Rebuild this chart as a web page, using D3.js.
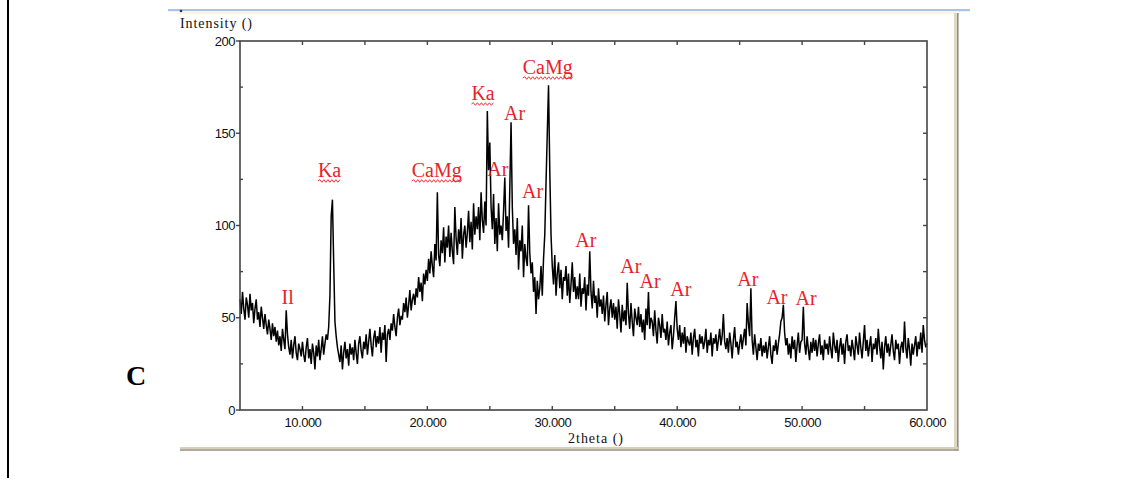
<!DOCTYPE html>
<html>
<head>
<meta charset="utf-8">
<script src="https://cdn.jsdelivr.net/npm/d3@7"></script>
<style>
  html, body { margin: 0; padding: 0; background: #ffffff; }
  svg { display: block; }
</style>
</head>
<body>
<svg id="chart" width="1121" height="493"></svg>
<script>
// ---------------- DATA ----------------
// XRD pattern: 2theta from 5.0 to 60.0 in 0.1 steps
const twoThetaStart = 5.0;
const twoThetaStep = 0.1;
const intensity = [
  60, 52, 64, 55, 49, 61, 57, 50, 63, 54,
  58, 47, 55, 60, 49, 53, 45, 56, 50, 44,
  52, 46, 41, 49, 44, 38, 47, 40, 45, 37,
  43, 35, 40, 32, 44, 38, 33, 54, 41, 34,
  30, 38, 28, 35, 40, 31, 27, 36, 33, 29,
  37, 30, 26, 34, 39, 28, 33, 25, 36, 31,
  22, 35, 29, 38, 27, 33, 40, 30, 36, 41,
  38, 45, 62, 105, 114, 80, 48, 40, 34, 30,
  26, 35, 22, 31, 37, 28, 33, 24, 36, 30,
  34, 27, 38, 31, 25, 36, 40, 32, 28, 37,
  33, 41, 30, 37, 44, 35, 29, 39, 43, 34,
  40, 36, 45, 31, 42, 38, 46, 26, 41, 44,
  38, 47, 43, 52, 45, 40, 50, 55, 46, 51,
  49, 58, 53, 61, 50, 57, 65, 54, 60, 63,
  57, 66, 61, 72, 64, 69, 59, 74, 68, 76,
  70, 82, 74, 86, 78, 72, 90, 81, 118, 84,
  78, 92, 85, 99, 80, 94, 88, 100, 83, 96,
  86, 79, 110, 93, 84, 98, 90, 104, 82, 95,
  100, 88, 96, 108, 91, 102, 87, 112, 95, 105,
  98, 110, 92, 118, 103, 96, 113, 100, 162, 130,
  145, 110, 98, 117, 90, 104, 86, 112, 95, 100,
  92, 108, 126, 97, 105, 88, 120, 156, 110, 90,
  98, 84, 104, 76, 92, 86, 100, 72, 90, 82,
  78, 111, 85, 74, 80, 64, 72, 52, 70, 60,
  66, 78, 62, 82, 95, 123, 150, 176, 130, 95,
  78, 68, 84, 62, 74, 80, 66, 76, 60, 72,
  70, 78, 62, 74, 58, 68, 80, 64, 72, 60,
  67, 60, 74, 56, 66, 63, 72, 54, 68, 62,
  86, 64, 55, 70, 58, 62, 50, 66, 56, 60,
  52, 62, 48, 57, 64, 46, 55, 60, 50, 58,
  49, 56, 44, 60, 52, 42, 57, 48, 54, 46,
  69, 52, 44, 58, 48, 40, 55, 50, 46, 56,
  45, 52, 42, 49, 38, 55, 46, 64, 44, 50,
  48, 40, 54, 43, 36, 50, 46, 39, 52, 42,
  44, 38, 48, 35, 42, 46, 33, 40, 50, 59,
  44, 38, 46, 34, 42, 36, 45, 31, 40, 37,
  35, 42, 30, 39, 44, 34, 38, 29, 41, 36,
  40, 33, 37, 44, 31, 38, 35, 42, 29, 39,
  36, 41, 32, 38, 44, 35, 40, 52, 37, 33,
  39, 31, 42, 36, 28, 38, 45, 34, 37, 30,
  36, 41, 33, 39, 44, 35, 58, 47, 40, 66,
  38, 30, 41, 34, 27, 36, 32, 39, 29, 35,
  31, 37, 28, 34, 40, 30, 25, 35, 32, 38,
  30, 36, 41, 48, 50, 57, 42, 35, 39, 30,
  36, 28, 40, 33, 38, 26, 35, 42, 31, 37,
  38, 56, 36, 30, 40, 33, 27, 37, 31, 39,
  32, 38, 29, 36, 41, 30, 35, 27, 38, 33,
  36, 30, 40, 33, 28, 42, 35, 31, 38, 26,
  34, 39, 30, 36, 25, 37, 41, 32, 35, 29,
  38, 33, 27, 40, 35, 30, 42, 34, 28, 37,
  46, 32, 38, 29, 35, 40, 26, 36, 33, 39,
  30, 44, 35, 28, 37, 22, 34, 40, 31, 36,
  29, 35, 41, 32, 27, 38, 33, 36, 25, 34,
  37, 31, 48, 34, 28, 39, 33, 24, 36, 30,
  35, 40, 29, 37, 33, 42, 31, 46, 38, 34,
  36
];

const xTickLabels = [10, 20, 30, 40, 50, 60];
const xMinorTicks = [10, 15, 20, 25, 30, 35, 40, 45, 50, 55];
const yTickLabels = [0, 50, 100, 150, 200];
const yMinorTicks = [25, 75, 125, 175];
const yAllTicks = [25, 50, 75, 100, 125, 150, 175];

// peak annotations: text, 2theta of label centre, intensity at label baseline, squiggle underline
const peakNames  = ["Il", "Ka", "CaMg", "Ka", "Ar", "Ar", "Ar", "CaMg", "Ar", "Ar", "Ar", "Ar", "Ar", "Ar", "Ar"];
const peakTheta  = [8.82, 12.17, 20.75, 24.46, 26.98, 25.64, 28.42, 29.64, 32.69, 36.29, 37.83, 40.29, 45.66, 47.99, 50.32];
const peakLevel  = [57.5, 126.3, 126.3, 168.0, 157.2, 126.8, 114.9, 182.1, 88.3, 74.3, 66.1, 61.8, 67.2, 57.5, 56.9];
const peakWavy   = [false, true, true, true, false, false, false, true, false, false, false, false, false, false, false];

// ---------------- DRAW ----------------
const svg = d3.select("#chart");
const plot = { left: 240, right: 927, top: 41, bottom: 410 };

const x = d3.scaleLinear().domain([5, 60]).range([plot.left, plot.right]);
const y = d3.scaleLinear().domain([0, 200]).range([plot.bottom, plot.top]);

// page decorations
svg.append("line").attr("x1", 8).attr("x2", 8).attr("y1", 0).attr("y2", 478)
  .attr("stroke", "#000").attr("stroke-width", 2);

svg.append("text").attr("x", 136).attr("y", 385)
  .attr("text-anchor", "middle")
  .attr("font-family", "'Liberation Serif', 'Times New Roman', serif")
  .attr("font-weight", "bold").attr("font-size", 28).attr("fill", "#000")
  .text("C");

// window frame
svg.append("rect").attr("x", 168).attr("y", 9).attr("width", 802).attr("height", 2.2).attr("fill", "#a9c3e6");
svg.append("rect").attr("x", 178).attr("y", 11).attr("width", 778).attr("height", 3).attr("fill", "#f7f4ea");
svg.append("circle").attr("cx", 181).attr("cy", 11).attr("r", 1.3).attr("fill", "#334");
svg.append("rect").attr("x", 954).attr("y", 13).attr("width", 3).attr("height", 438).attr("fill", "#ddd7c4");
svg.append("rect").attr("x", 957).attr("y", 13).attr("width", 1.6).attr("height", 438).attr("fill", "#8f8d84");
svg.append("rect").attr("x", 180).attr("y", 447).attr("width", 778).attr("height", 2.2).attr("fill", "#d6cfba");
svg.append("rect").attr("x", 180).attr("y", 449.2).attr("width", 778).attr("height", 1.6).attr("fill", "#9c978a");

// axes (labels via d3 axis)
const tickFont = "'Liberation Sans', Arial, sans-serif";
const axisColor = "#444";

const xAxis = d3.axisBottom(x).tickValues(xTickLabels).tickSize(0).tickPadding(8)
  .tickFormat(d3.format(".3f"));
const gx = svg.append("g").attr("transform", `translate(0,${plot.bottom})`).call(xAxis);
gx.select(".domain").remove();
gx.selectAll("text").attr("font-family", tickFont).attr("font-size", 13).attr("fill", "#111")
  .attr("letter-spacing", "-0.5");

const yAxis = d3.axisLeft(y).tickValues(yTickLabels).tickSize(0).tickPadding(5);
const gy = svg.append("g").attr("transform", `translate(${plot.left},0)`).call(yAxis);
gy.select(".domain").remove();
gy.selectAll("text").attr("font-family", tickFont).attr("font-size", 13).attr("fill", "#111")
  .attr("letter-spacing", "-0.5");

// tick marks
const tk = svg.append("g").attr("stroke", axisColor).attr("stroke-width", 1.4);
xMinorTicks.forEach(v => {
  tk.append("line").attr("x1", x(v)).attr("x2", x(v)).attr("y1", plot.bottom).attr("y2", plot.bottom - 4);
  tk.append("line").attr("x1", x(v)).attr("x2", x(v)).attr("y1", plot.top).attr("y2", plot.top + 4);
});
yTickLabels.forEach(v => {
  tk.append("line").attr("x1", plot.left - 4).attr("x2", plot.left).attr("y1", y(v)).attr("y2", y(v));
});
yMinorTicks.forEach(v => {
  tk.append("line").attr("x1", plot.left).attr("x2", plot.left + 3).attr("y1", y(v)).attr("y2", y(v));
});
yAllTicks.forEach(v => {
  tk.append("line").attr("x1", plot.right - 4).attr("x2", plot.right).attr("y1", y(v)).attr("y2", y(v));
});

// spectrum
const line = d3.line()
  .x((d, i) => x(twoThetaStart + i * twoThetaStep))
  .y(d => y(d));
svg.append("path").datum(intensity)
  .attr("d", line)
  .attr("fill", "none").attr("stroke", "#000").attr("stroke-width", 1.5)
  .attr("stroke-linejoin", "miter");

// frame of plot
svg.append("rect").attr("x", plot.left).attr("y", plot.top)
  .attr("width", plot.right - plot.left).attr("height", plot.bottom - plot.top)
  .attr("fill", "none").attr("stroke", axisColor).attr("stroke-width", 1.6);

// axis titles
const titleFont = "'Liberation Serif', 'Times New Roman', serif";
svg.append("text").attr("x", 180).attr("y", 28)
  .attr("font-family", titleFont).attr("font-size", 14).attr("fill", "#111")
  .attr("textLength", 72).attr("lengthAdjust", "spacing")
  .text("Intensity ()");
svg.append("text").attr("x", (plot.left + plot.right) / 2 + 12).attr("y", 443)
  .attr("text-anchor", "middle")
  .attr("font-family", titleFont).attr("font-size", 14).attr("fill", "#111")
  .attr("textLength", 55).attr("lengthAdjust", "spacing")
  .text("2theta ()");

// peak annotations
const red = "#e8222a";
const ann = svg.append("g");
peakNames.forEach((name, i) => {
  const cx = x(peakTheta[i]), by = y(peakLevel[i]);
  const t = ann.append("text").attr("x", cx).attr("y", by)
    .attr("text-anchor", "middle")
    .attr("font-family", titleFont).attr("font-size", 20).attr("fill", red)
    .text(name);
  if (peakWavy[i]) {
    const w = t.node().getComputedTextLength();
    const x0 = cx - w / 2, x1 = cx + w / 2, yy = by + 4;
    let d = `M${x0},${yy}`;
    let up = true;
    for (let xx = x0 + 2; xx <= x1 + 0.01; xx += 2) {
      d += ` L${xx},${yy + (up ? -1.3 : 1.3)}`;
      up = !up;
    }
    ann.append("path").attr("d", d).attr("fill", "none").attr("stroke", red).attr("stroke-width", 0.9);
  }
});
</script>
</body>
</html>
